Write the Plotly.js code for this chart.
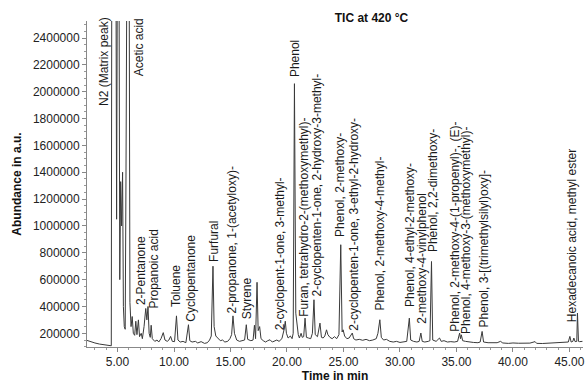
<!DOCTYPE html>
<html>
<head>
<meta charset="utf-8">
<script src="https://cdn.plot.ly/plotly-3.0.1.min.js"></script>
<style>html,body{margin:0;padding:0;background:#fff;}#chart{width:585px;height:383px;}</style>
</head>
<body>
<div id="chart"></div>
<script>
// Retention time (min)
const timeMin = [
  2.30, 2.60, 3.00, 3.40, 3.80, 4.20, 4.45, 4.50, 4.85, 4.92, 5.00, 5.12, 5.20, 5.28, 5.36, 5.45, 5.52, 5.60, 5.68, 5.75,
  5.80, 5.85, 6.02, 6.10, 6.20, 6.30, 6.40, 6.52, 6.62, 6.72, 6.85, 6.95, 7.10, 7.20, 7.35, 7.50, 7.60, 7.70, 7.80, 7.90,
  7.98, 8.08, 8.30, 8.50, 8.65, 8.85, 9.05, 9.20, 9.40, 9.55, 9.70, 9.85, 10.05, 10.22, 10.35, 10.55, 10.80, 11.05, 11.28, 11.40,
  11.60, 11.90, 12.10, 12.40, 12.70, 12.95, 13.15, 13.30, 13.45, 13.55, 13.70, 13.90, 14.10, 14.30, 14.50, 14.75, 14.95, 15.10, 15.22, 15.35,
  15.55, 15.80, 16.10, 16.25, 16.40, 16.52, 16.80, 17.00, 17.12, 17.22, 17.35, 17.45, 17.58, 17.70, 17.90, 18.10, 18.30, 18.50, 18.70, 18.90,
  19.10, 19.30, 19.55, 19.75, 19.85, 19.95, 20.10, 20.30, 20.45, 20.55, 20.66, 20.78, 20.90, 21.00, 21.10, 21.25, 21.35, 21.48, 21.60, 21.72,
  21.90, 22.10, 22.25, 22.39, 22.50, 22.70, 22.92, 23.05, 23.20, 23.35, 23.50, 23.62, 23.80, 24.00, 24.20, 24.40, 24.60, 24.76, 24.88, 24.97,
  25.10, 25.30, 25.50, 25.78, 25.90, 26.10, 26.40, 26.70, 27.00, 27.30, 27.60, 27.90, 28.05, 28.22, 28.35, 28.55, 28.80, 29.10, 29.40, 29.70,
  30.00, 30.30, 30.60, 30.83, 30.95, 31.20, 31.50, 31.70, 31.85, 31.97, 32.20, 32.50, 32.65, 32.79, 32.90, 33.20, 33.50, 33.65, 33.90, 34.20,
  34.50, 34.80, 35.10, 35.28, 35.36, 35.43, 35.55, 35.80, 36.10, 36.50, 36.90, 37.10, 37.27, 37.40, 37.80, 38.20, 38.60, 38.90, 39.10, 39.60,
  40.00, 40.50, 41.00, 41.50, 41.96, 42.10, 42.60, 43.00, 43.50, 44.00, 44.50, 44.90, 45.04, 45.15, 45.30, 45.39, 45.50, 45.65, 45.71, 45.80,
  45.90, 46.15
];
// Abundance (a.u.)
const abundance = [
  147000, 138000, 128000, 120000, 114000, 109000, 107000, 3400000, 3400000, 1050000, 3400000, 3400000, 600000, 1330000, 1000000, 1400000, 400000, 250000, 230000, 1350000,
  1830000, 3400000, 3400000, 430000, 250000, 325000, 200000, 185000, 290000, 190000, 300000, 175000, 200000, 160000, 250000, 385000, 300000, 400000, 200000, 170000,
  260000, 160000, 140000, 150000, 135000, 160000, 205000, 150000, 140000, 150000, 177000, 140000, 138000, 330000, 150000, 135000, 140000, 130000, 264000, 145000,
  135000, 140000, 128000, 138000, 125000, 130000, 150000, 180000, 700000, 250000, 180000, 160000, 145000, 150000, 135000, 140000, 160000, 190000, 330000, 200000,
  150000, 140000, 145000, 150000, 264000, 155000, 145000, 150000, 260000, 160000, 580000, 220000, 250000, 160000, 145000, 135000, 145000, 152000, 135000, 145000,
  150000, 140000, 160000, 230000, 290000, 200000, 165000, 180000, 160000, 200000, 2060000, 350000, 230000, 190000, 165000, 200000, 170000, 175000, 313000, 170000,
  165000, 160000, 200000, 450000, 190000, 175000, 276000, 170000, 165000, 180000, 226000, 190000, 170000, 160000, 175000, 160000, 190000, 860000, 210000, 226000,
  180000, 160000, 165000, 202000, 160000, 150000, 155000, 148000, 155000, 145000, 150000, 160000, 200000, 301000, 170000, 150000, 155000, 140000, 135000, 140000,
  132000, 135000, 140000, 313000, 150000, 140000, 135000, 140000, 202000, 140000, 135000, 140000, 145000, 735000, 150000, 140000, 165000, 140000, 145000, 135000,
  138000, 135000, 140000, 202000, 160000, 189000, 145000, 140000, 135000, 132000, 130000, 135000, 214000, 135000, 130000, 128000, 130000, 140000, 128000, 125000,
  128000, 126000, 124000, 127000, 138000, 125000, 124000, 126000, 125000, 127000, 128000, 135000, 177000, 135000, 140000, 165000, 138000, 140000, 351000, 140000,
  138000, 140000
];
// Peak labels: text, label centre time (min), label base abundance
const peakNames = [
  "N2 (Matrix peak)", "Acetic acid", "2-Pentanone", "Propanoic acid", "Toluene", "Cyclopentanone", "Furfural",
  "2-propanone, 1-(acetyloxy)-", "Styrene", "2-cyclopent-1-one, 3-methyl-", "Phenol",
  "Furan, tetrahydro-2-(methoxymethyl)-", "2-cyclopenten-1-one, 2-hydroxy-3-methyl-", "Phenol, 2-methoxy-",
  "2-cyclopenten-1-one, 3-ethyl-2-hydroxy-", "Phenol, 2-methoxy-4-methyl-", "Phenol, 4-ethyl-2-methoxy-",
  "2-methoxy-4-vinylphenol", "Phenol, 2,2-dimethoxy-", "Phenol, 2-methoxy-4-(1-propenyl)-, (E)-",
  "Phenol, 4-methoxy-3-(methoxymethyl)-", "Phenol, 3-[(trimethylsilyl)oxy]-", "Hexadecanoic acid, methyl ester"
];
const peakLabelTime = [3.87, 6.86, 7.09, 8.26, 10.17, 11.43, 13.48, 15.15, 16.41, 19.40, 20.66, 21.45, 22.57, 24.68, 25.91, 28.25, 30.88, 32.0, 32.88, 34.84, 35.90, 37.42, 45.19];
const peakLabelBase = [1888000, 2104000, 400000, 376000, 388000, 276000, 723000, 338000, 301000, 214000, 2101000, 314000, 463000, 910000, 214000, 363000, 388000, 264000, 798000, 202000, 189000, 239000, 276000];

const yTickVals = [200000, 400000, 600000, 800000, 1000000, 1200000, 1400000, 1600000, 1800000, 2000000, 2200000, 2400000];
const yTickText = ["200000", "400000", "600000", "800000", "1000000", "1200000", "1400000", "1600000", "1800000", "2000000", "2200000", "2400000"];
const xTickVals = [5, 10, 15, 20, 25, 30, 35, 40, 45];
const xTickText = ["5.00", "10.00", "15.00", "20.00", "25.00", "30.00", "35.00", "40.00", "45.00"];

const FONT = "Liberation Sans, Arial, sans-serif";
const annotations = peakNames.map((name, i) => ({
  x: peakLabelTime[i], y: peakLabelBase[i], xref: "x", yref: "y",
  text: name, showarrow: false, textangle: -90,
  xanchor: "center", yanchor: "bottom", borderpad: 0,
  font: {family: FONT, size: 12, color: "#1a1a1a"}
}));

const trace = {
  x: timeMin, y: abundance, type: "scatter", mode: "lines",
  line: {color: "#3a3a3a", width: 1}, hoverinfo: "skip"
};

const layout = {
  width: 585, height: 383,
  margin: {l: 87, r: 2, t: 21, b: 36},
  paper_bgcolor: "#fff", plot_bgcolor: "#fff",
  showlegend: false,
  font: {family: FONT, size: 12, color: "#222"},
  title: {
    text: "<b>TIC at 420 °C</b>", x: 0.635, xref: "container", xanchor: "center",
    y: 0.953, yref: "container", yanchor: "middle",
    font: {family: FONT, size: 12, color: "#111"}
  },
  xaxis: {
    range: [2.3, 46.2], showgrid: false, zeroline: false,
    showline: true, linecolor: "#888", linewidth: 1,
    ticks: "outside", ticklen: 4, tickcolor: "#888",
    tickvals: xTickVals, ticktext: xTickText, ticklabeloverflow: "allow",
    minor: {dtick: 1, tick0: 0, ticks: "outside", ticklen: 2, tickcolor: "#999", showgrid: false},
    tickfont: {family: FONT, size: 12, color: "#222"},
    title: {text: "<b>Time in min</b>", standoff: 3, font: {family: FONT, size: 12, color: "#111"}}
  },
  yaxis: {
    range: [98000, 2527000], showgrid: false, zeroline: false,
    showline: true, linecolor: "#888", linewidth: 1,
    ticks: "outside", ticklen: 4, tickcolor: "#888",
    tickvals: yTickVals, ticktext: yTickText,
    minor: {dtick: 50000, tick0: 0, ticks: "outside", ticklen: 2, tickcolor: "#999", showgrid: false},
    tickfont: {family: FONT, size: 12, color: "#222"},
    title: {text: "<b>Abundance in a.u.</b>", standoff: 8, font: {family: FONT, size: 12, color: "#111"}}
  },
  annotations: annotations
};

Plotly.newPlot("chart", [trace], layout, {displayModeBar: false, staticPlot: true});
</script>
</body>
</html>
